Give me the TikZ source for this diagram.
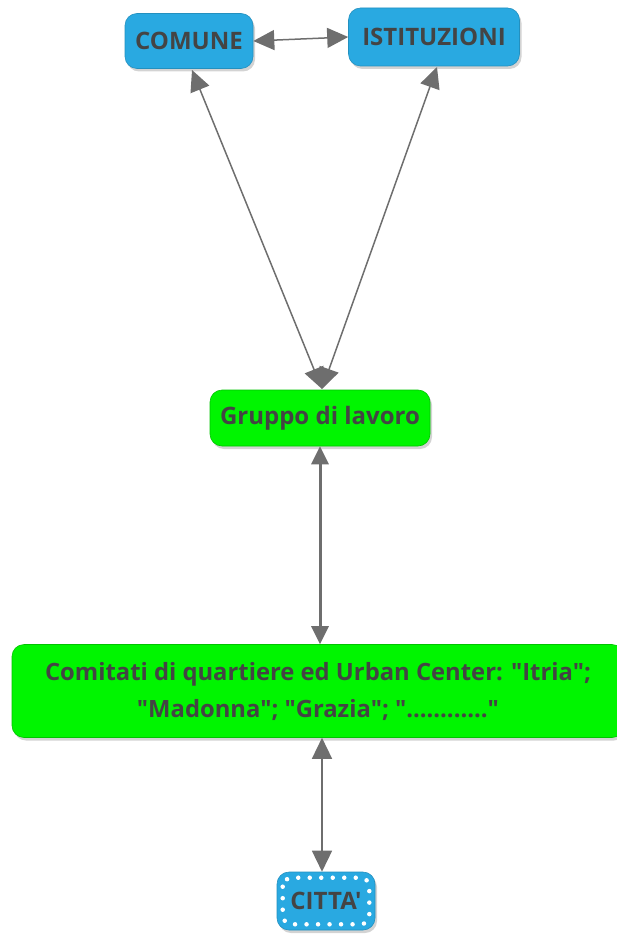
\documentclass[tikz,border=0pt]{standalone}
\usepackage{fontspec}
\setmainfont[Ligatures=TeXOff]{Open Sans}
\usetikzlibrary{arrows.meta,shadows}
\definecolor{boxblue}{HTML}{29A9E1}
\definecolor{boxgreen}{HTML}{00F500}
\definecolor{txt}{HTML}{444444}
\definecolor{arr}{HTML}{6E6E6E}
\tikzset{
  base/.style={rounded corners=12pt, text=txt, font=\bfseries\fontsize{24}{28}\selectfont,
    inner sep=0pt, align=center, drop shadow={shadow xshift=2pt, shadow yshift=-3pt, opacity=0.35}},
  bluebox/.style={base, fill=boxblue, draw=boxblue!85!black, line width=0.6pt},
  greenbox/.style={base, fill=boxgreen, draw=boxgreen!80!black, line width=0.6pt},
  conn/.style={draw=arr, line width=1.5pt, {Triangle[length=21pt,width=20pt]}-{Triangle[length=21pt,width=20pt]}},
  connthick/.style={conn, line width=3pt, {Triangle[length=18pt,width=17pt]}-{Triangle[length=18pt,width=17pt]}},
}
\begin{document}
\begin{tikzpicture}[x=1pt,y=-1pt]
\useasboundingbox (0,0) rectangle (617,936);
\node[bluebox, minimum width=128pt, minimum height=55pt] (comune) at (189,41) {COMUNE};
\node[bluebox, minimum width=171pt, minimum height=58pt] (ist) at (434,37) {ISTITUZIONI};
\node[greenbox, minimum width=220pt, minimum height=56pt] (gruppo) at (320,418) {Gruppo di lavoro};
\node[greenbox, minimum width=612pt, minimum height=93pt, font=\bfseries\fontsize{23.8}{37}\selectfont] (comitati) at (318,691) {Comitati di quartiere ed Urban Center: "Itria";\\"Madonna"; "Grazia"; "............"};
\node[bluebox, minimum width=98pt, minimum height=58pt] (citta) at (326,901) {CITTA'};
\draw[white, line width=4.5pt, line cap=round, dash pattern=on 0pt off 11.5pt, rounded corners=9pt]
  ([shift={(6pt,-6pt)}]citta.north west) rectangle ([shift={(-6pt,6pt)}]citta.south east);
\coordinate (gtop) at (322,389);
\coordinate (cs) at (192,70);
\coordinate (is) at (437,67);
\draw[conn] (comune.east) -- (ist.west);
\draw[conn] (cs) -- (gtop);
\draw[conn] (is) -- (gtop);
\draw[connthick] (gruppo.south) -- (comitati.north -| gruppo.south);
\draw[conn] ([xshift=4pt]comitati.south) -- ([xshift=-4pt]citta.north);
\end{tikzpicture}
\end{document}
